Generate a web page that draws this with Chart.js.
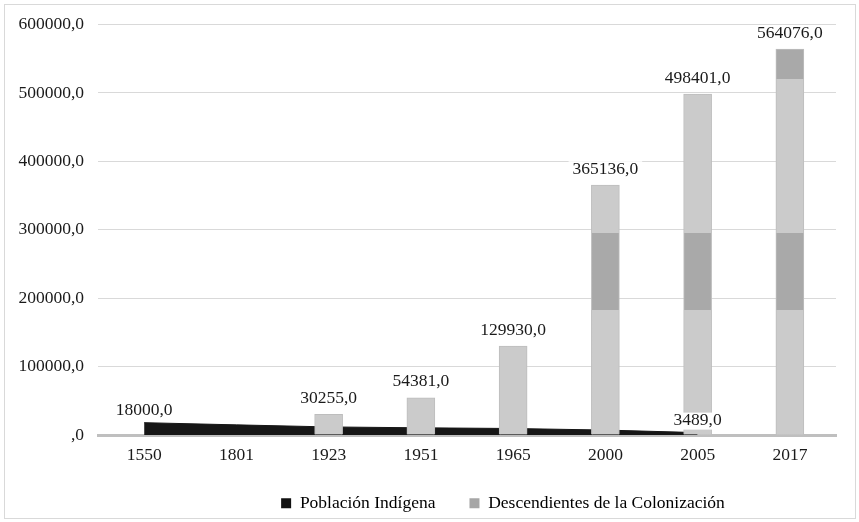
<!DOCTYPE html>
<html>
<head>
<meta charset="utf-8">
<script src="https://cdn.jsdelivr.net/npm/chart.js@4.4.0/dist/chart.umd.min.js"></script>
<style>
  html,body{margin:0;padding:0;background:#fff;}
  #frame{position:absolute;left:4px;top:4px;width:850px;height:513px;border:1px solid #d9d9d9;}
  #wrap{position:absolute;left:0;top:0;width:859px;height:522px;}
</style>
</head>
<body>
<div id="frame"></div>
<div id="wrap"><canvas id="chart" width="859" height="522"></canvas></div>
<script>
/* Población indígena vs descendientes de la colonización */
const years = ['1550','1801','1923','1951','1965','2000','2005','2017'];
const indigena = [18000, 14800, 11800, 10500, 9500, 7200, 3489, null];
const descendientes = [null, null, 30255, 54381, 129930, 365136, 498401, 564076];
const indigenaLabeled = [0, 6];   // points that carry a value label
const yTicks = [0, 100000, 200000, 300000, 400000, 500000, 600000];

function fmt(v){ return v === 0 ? ',0' : v + ',0'; }

// bands in the grey bars (same gradient across the whole plot)
function barFill(context){
  const chart = context.chart;
  const y = chart.scales && chart.scales.y;
  if (!y) return '#cdcdcd';
  const g = chart.ctx.createLinearGradient(0, y.getPixelForValue(0), 0, y.getPixelForValue(600000));
  const light = '#cbcbcb', dark = '#a9a9a9';
  g.addColorStop(0, light);
  g.addColorStop(0.304, light); g.addColorStop(0.304, dark);
  g.addColorStop(0.492, dark);  g.addColorStop(0.492, light);
  g.addColorStop(0.868, light); g.addColorStop(0.868, dark);
  g.addColorStop(1, dark);
  return g;
}

const valueLabels = {
  id: 'valueLabels',
  afterDatasetsDraw(chart){
    const ctx = chart.ctx;
    ctx.save();
    ctx.font = '17.5px "Liberation Serif"';
    ctx.textAlign = 'center';
    ctx.textBaseline = 'middle';
    const draw = (x, y, text) => {
      const w = ctx.measureText(text).width + 8;
      ctx.fillStyle = '#fff';
      ctx.fillRect(x - w/2, y - 8, w, 17);
      ctx.fillStyle = '#1a1a1a';
      ctx.fillText(text, x, y);
    };
    chart.getDatasetMeta(1).data.forEach((el, i) => {
      const v = descendientes[i];
      if (v == null) return;
      draw(el.x, el.y - 16, fmt(v));
    });
    chart.getDatasetMeta(0).data.forEach((el, i) => {
      if (!indigenaLabeled.includes(i)) return;
      draw(el.x, el.y - 12, fmt(indigena[i]));
    });
    ctx.restore();
  }
};

// the legend sits right of centre in the original
const legendShift = {
  id: 'legendShift',
  beforeDraw(chart){
    const lg = chart.legend;
    if (!lg || lg._shifted) return;
    lg.left += 85; lg.right += 85;
    lg._shifted = true;
  }
};

Chart.defaults.font.family = '"Liberation Serif", serif';
Chart.defaults.font.size = 17.5;
Chart.defaults.color = '#1a1a1a';

new Chart(document.getElementById('chart'), {
  type: 'bar',
  data: {
    labels: years,
    datasets: [
      { type:'line', label:'Población Indígena', data:indigena, order:2,
        fill:'origin', backgroundColor:'#161616', borderColor:'#161616', borderWidth:1,
        pointRadius:0, tension:0 },
      { type:'bar', label:'Descendientes de la Colonización', data:descendientes, order:1,
        backgroundColor:barFill, borderColor:'#bdbdbd', borderWidth:1, barThickness:28 }
    ]
  },
  options: {
    responsive:false,
    animation:false,
    layout:{ padding:{ left:0, right:23, top:24, bottom:0 } },
    plugins:{
      tooltip:{ enabled:false },
      legend:{
        position:'bottom',
        labels:{
          boxWidth:10, boxHeight:10, padding:34, color:'#262626',
          generateLabels(){
            return [
              { text:'Población Indígena', fillStyle:'#111111', strokeStyle:'#111111', lineWidth:0, datasetIndex:0 },
              { text:'Descendientes de la Colonización', fillStyle:'#a6a6a6', strokeStyle:'#a6a6a6', lineWidth:0, datasetIndex:1 }
            ];
          }
        }
      }
    },
    scales:{
      x:{
        grid:{ display:false, drawTicks:false },
        border:{ color:'#bfbfbf', width:3 },
        ticks:{ padding:10 },
        afterFit(s){ s.height = 25.5; }
      },
      y:{
        min:0, max:600000,
        afterBuildTicks(s){ s.ticks = yTicks.map(v => ({ value:v })); },
        grid:{ color:'#d9d9d9', drawTicks:false },
        border:{ display:false },
        ticks:{ padding:14, callback:v => fmt(v) },
        afterFit(s){ s.width = 98; }
      }
    }
  },
  plugins:[valueLabels, legendShift]
});
</script>
</body>
</html>
